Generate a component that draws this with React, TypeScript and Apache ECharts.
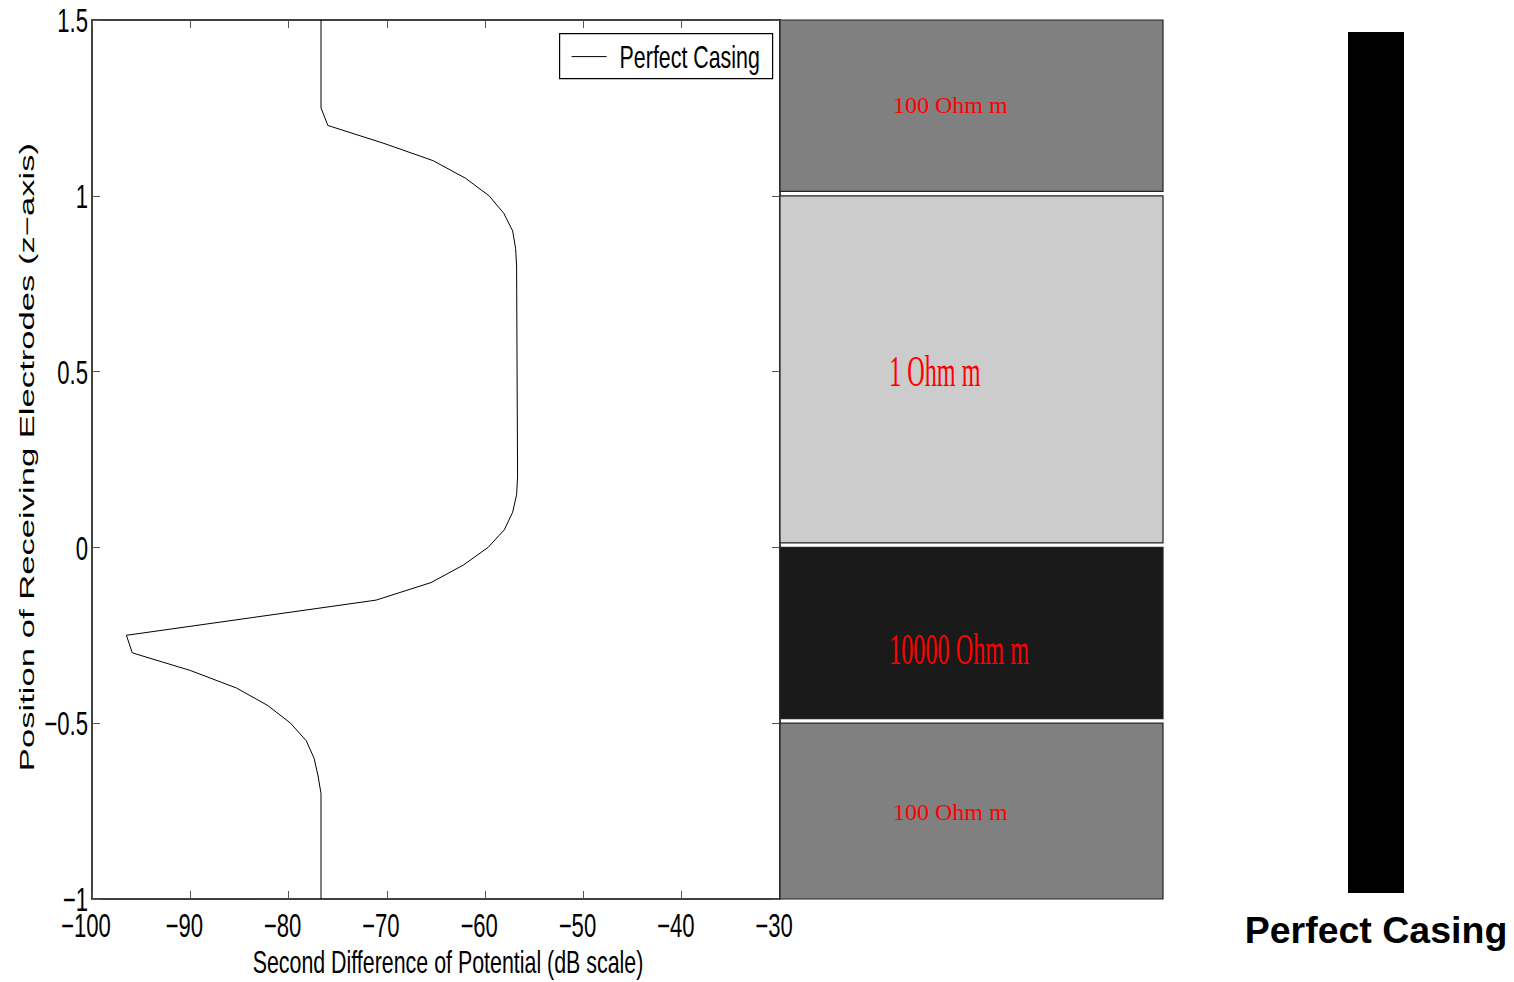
import React, { useEffect, useRef } from "react";
import * as echarts from "echarts";

// Measured curve: position z (m) vs second difference of potential (dB)
const zValues = [1.5, 1.25, 1.2, 1.15, 1.1, 1.05, 1.0, 0.95, 0.9, 0.85, 0.8, 0.2, 0.15, 0.1, 0.05, 0.0, -0.05, -0.1, -0.15, -0.2, -0.25, -0.3, -0.35, -0.4, -0.45, -0.5, -0.55, -0.6, -0.65, -0.7, -1.0];
const potValues = [-76.7, -76.7, -76.0, -70.4, -65.3, -62.0, -59.6, -58.1, -57.2, -56.9, -56.8, -56.7, -56.8, -57.2, -58.05, -59.7, -62.2, -65.5, -71.1, -83.8, -96.5, -95.9, -90.0, -85.3, -82.1, -79.8, -78.2, -77.4, -77.0, -76.7, -76.7];
const seriesName = "Perfect Casing";

// Tick labels
const xTickValues = [-100, -90, -80, -70, -60, -50, -40, -30];
const yTickValues = [-1, -0.5, 0, 0.5, 1, 1.5];
const xTitle = "Second Difference of Potential (dB scale)";
const yTitle = "Position of Receiving Electrodes (z\u2212axis)";

// Resistivity layers
const layerTop = [1.5, 1.0, 0.0, -0.5];
const layerBottom = [1.0, 0.0, -0.5, -1.0];
const layerLabels = ["100 Ohm m", "1 Ohm m", "10000 Ohm m", "100 Ohm m"];
const layerFill = ["#808080", "#cccccc", "#1a1a1a", "#808080"];
const layerLabelZ = [1.258, 0.5, -0.29, -0.752];
const layerLabelLarge = [false, true, true, false];

// Casing bar
const casingCategories = ["Perfect Casing"];
const casingValues = [1];

const xTickMin = -100;
const xTickMax = -30;
const yTickMin = -1;
const yTickMax = 1.5;

const SANS = "'Liberation Sans', Arial, Helvetica, sans-serif";
const COND_SCALE = 0.67;

export default function App() {
  const ref = useRef<HTMLDivElement>(null);
  useEffect(() => {
    if (!ref.current) return;
    const chart = echarts.init(ref.current, undefined, { renderer: "svg" });
    const fmt = (v: number) => String(v).replace("-", "\u2212");
    const curve = zValues.map((z, i) => [potValues[i], z]);
    const layerData = layerTop.map((t, i) => [0, 1, t, layerBottom[i], i]);
    const xTickData = xTickValues.map((v) => [v, yTickMin]);
    const yTickData = yTickValues.map((v) => [xTickMin, v]);

    const frameAxis = (extra: any) => ({
      gridIndex: 0, type: "value", interval: 10,
      axisLine: { onZero: false, lineStyle: { color: "#000", width: 1.5 } },
      axisTick: { inside: true, length: 8, lineStyle: { color: "#555" } },
      axisLabel: { show: false }, splitLine: { show: false },
      ...extra,
    });

    const option: any = {
      animation: false,
      backgroundColor: "#ffffff",
      grid: [
        { left: 92, top: 20, width: 688, height: 879 },
        { left: 780, top: 20, width: 383, height: 879 },
        { left: 1348, top: 32, width: 56, height: 861 },
      ],
      xAxis: [
        frameAxis({ min: xTickMin, max: xTickMax, interval: 10, position: "bottom" }),
        frameAxis({ min: xTickMin, max: xTickMax, interval: 10, position: "top" }),
        { gridIndex: 1, type: "value", min: 0, max: 1, show: false },
        { gridIndex: 2, type: "category", data: casingCategories,
          axisLine: { show: false }, axisTick: { show: false },
          axisLabel: { color: "#000", fontFamily: SANS, fontWeight: "bold", fontSize: 37.5, margin: 18, interval: 0 } },
      ],
      yAxis: [
        frameAxis({ min: yTickMin, max: yTickMax, interval: 0.5, position: "left" }),
        frameAxis({ min: yTickMin, max: yTickMax, interval: 0.5, position: "right" }),
        { gridIndex: 1, type: "value", min: yTickMin, max: yTickMax, show: false },
        { gridIndex: 2, type: "value", min: 0, max: 1, show: false },
      ],
      graphic: [
        {
          type: "text", x: 27, y: 457, rotation: Math.PI / 2, scaleX: 1.65,
          style: { text: yTitle, font: "21px " + SANS, fill: "#000", align: "center", verticalAlign: "middle" },
        },
        {
          type: "text", x: 448, y: 963, scaleX: 0.69,
          style: { text: xTitle, font: "31px " + SANS, fill: "#000", align: "center", verticalAlign: "middle" },
        },
        {
          type: "group", left: 559, top: 33, z: 100,
          children: [
            { type: "rect", shape: { x: 0, y: 0, width: 213, height: 45 }, style: { fill: "#fff", stroke: "#000", lineWidth: 1.2 } },
            { type: "line", shape: { x1: 12, y1: 23, x2: 47, y2: 23 }, style: { stroke: "#000", lineWidth: 1 } },
            { type: "text", x: 60, y: 24, scaleX: 0.69, style: { text: seriesName, font: "31px " + SANS, fill: "#000", align: "left", verticalAlign: "middle" } },
          ],
        },
      ],
      series: [
        {
          type: "custom", xAxisIndex: 2, yAxisIndex: 2, data: layerData, silent: true, clip: false,
          renderItem: (params: any, api: any) => {
            const i = api.value(4);
            const p0 = api.coord([api.value(0), api.value(2)]);
            const p1 = api.coord([api.value(1), api.value(3)]);
            const gap = api.value(3) > yTickMin ? 4.5 : 0;
            const large = layerLabelLarge[i];
            const lab = api.coord([large ? 0.285 : 0.295, layerLabelZ[i]]);
            return {
              type: "group",
              children: [
                { type: "rect", shape: { x: p0[0], y: p0[1], width: p1[0] - p0[0], height: p1[1] - p0[1] - gap },
                  style: { fill: layerFill[i], stroke: "#222", lineWidth: 1.2 } },
                { type: "text", x: lab[0], y: lab[1], scaleX: large ? 0.55 : 1,
                  style: { text: layerLabels[i], fill: "#ff0000", font: (large ? "44px" : "24px") + " 'Liberation Serif', 'Times New Roman', serif", align: "left", verticalAlign: "middle" } },
              ],
            };
          },
        },
        {
          type: "bar", xAxisIndex: 3, yAxisIndex: 3, data: casingValues, barWidth: "100%",
          itemStyle: { color: "#000" }, silent: true,
        },
        {
          name: seriesName, type: "line", xAxisIndex: 0, yAxisIndex: 0, data: curve,
          symbol: "none", lineStyle: { color: "#000", width: 1 }, itemStyle: { color: "#000" },
        },
        {
          type: "custom", xAxisIndex: 0, yAxisIndex: 0, data: xTickData, silent: true, clip: false,
          renderItem: (params: any, api: any) => {
            const p = api.coord([api.value(0), api.value(1)]);
            return { type: "text", x: p[0] - 6, y: p[1] + 27, scaleX: COND_SCALE,
              style: { text: fmt(api.value(0)), font: "33px " + SANS, fill: "#000", align: "center", verticalAlign: "middle" } };
          },
        },
        {
          type: "custom", xAxisIndex: 0, yAxisIndex: 0, data: yTickData, silent: true, clip: false,
          renderItem: (params: any, api: any) => {
            const p = api.coord([api.value(0), api.value(1)]);
            return { type: "text", x: p[0] - 4, y: p[1] + 1, scaleX: COND_SCALE,
              style: { text: fmt(api.value(1)), font: "33px " + SANS, fill: "#000", align: "right", verticalAlign: "middle" } };
          },
        },
      ],
    };
    chart.setOption(option);
    return () => chart.dispose();
  }, []);
  return <div ref={ref} style={{ position: "fixed", left: 0, top: 0, width: 1514, height: 982, background: "#fff" }} />;
}
